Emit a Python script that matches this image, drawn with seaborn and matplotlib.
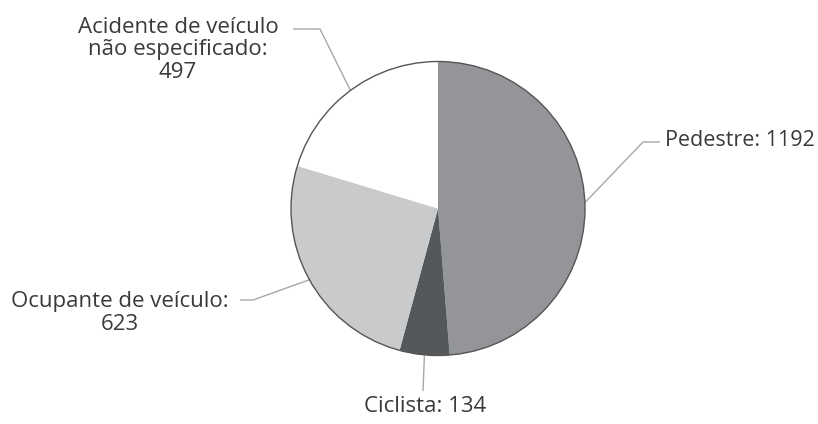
import numpy as np
import matplotlib
matplotlib.use("Agg")
import matplotlib.pyplot as plt
from matplotlib.patches import Circle
import seaborn as sns

# Road-traffic deaths by victim type
categories = ["Pedestre", "Ciclista", "Ocupante de veículo", "Acidente de veículo\nnão especificado"]
values = [1192, 134, 623, 497]
label_lines = ["Pedestre: 1192", "Ciclista: 134", "Ocupante de veículo:\n623",
               "Acidente de veículo\nnão especificado:\n497"]
colors = ["#939598", "#55585a", "#c9cacc", "#ffffff"]

sns.set_theme(style="white")
plt.rcParams["font.family"] = ["Open Sans", "DejaVu Sans"]

W, H = 818, 424
fig = plt.figure(figsize=(W / 100, H / 100), dpi=100)
ax = fig.add_axes([0, 0, 1, 1])

cx, cy, r = 438, H - 208.5, 147
wedges, _ = ax.pie(values, colors=colors, startangle=90, counterclock=False,
                   center=(cx, cy), radius=r, frame=True,
                   wedgeprops=dict(linewidth=0))
ax.set_xlim(0, W)
ax.set_ylim(0, H)
ax.set_aspect("equal")
ax.axis("off")
ax.add_patch(Circle((cx, cy), r, fill=False, edgecolor="#555555", linewidth=1.0, zorder=5))

# leader lines: wedge mid-angle on the rim -> elbow -> end
line_kw = dict(color="#a8a8a8", linewidth=1.0, solid_capstyle="butt")
elbows = [((643, H - 142), (660, H - 142)),
          ((423, H - 391), (423, H - 391)),
          ((253, H - 300), (240, H - 300)),
          ((320, H - 29), (293, H - 29))]
for w, (elbow, end) in zip(wedges, elbows):
    mid = np.deg2rad((w.theta1 + w.theta2) / 2)
    px, py = cx + r * np.cos(mid), cy + r * np.sin(mid)
    ax.plot([px, elbow[0], end[0]], [py, elbow[1], end[1]], **line_kw)

txt_kw = dict(fontsize=16, color="#3a3a3a", linespacing=1.08)
ax.text(815, H - 141, label_lines[0], ha="right", va="center",
        **{**txt_kw, "fontsize": 15.5})
ax.text(425, H - 407, label_lines[1], ha="center", va="center", **txt_kw)
ax.text(120, H - 313, label_lines[2], ha="center", va="center", multialignment="center", **txt_kw)
ax.text(178, H - 50, label_lines[3], ha="center", va="center", multialignment="center", **txt_kw)

fig.savefig("out.png", dpi=100, facecolor="white")
